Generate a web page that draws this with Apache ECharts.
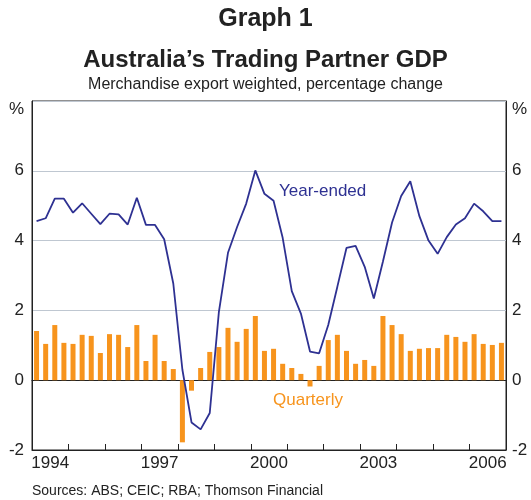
<!DOCTYPE html>
<html>
<head>
<meta charset="utf-8">
<script src="https://cdn.jsdelivr.net/npm/echarts@6/dist/echarts.min.js"></script>
<style>
html,body{margin:0;padding:0;background:#fff;}
#chart{width:531px;height:500px;}
</style>
</head>
<body>
<div id="chart"></div>
<script>
// ---- data ----
var years = ['1994','1995','1996','1997','1998','1999','2000','2001','2002','2003','2004','2005','2006'];
var quarterNames = ['Q1','Q2','Q3','Q4'];
var quarterly = [1.41,1.04,1.58,1.07,1.04,1.30,1.27,0.78,1.32,1.30,
                 0.95,1.58,0.55,1.30,0.55,0.32,-1.78,-0.30,0.35,0.81,
                 0.95,1.50,1.10,1.47,1.84,0.84,0.90,0.47,0.35,0.18,
                 -0.18,0.41,1.15,1.30,0.84,0.47,0.58,0.41,1.84,1.58,
                 1.32,0.84,0.90,0.92,0.92,1.30,1.24,1.10,1.32,1.04,1.01,1.07];
var yearEnded = [4.56,4.64,5.20,5.20,4.80,5.07,4.77,4.47,4.77,4.75,
                 4.46,5.23,4.45,4.45,4.04,2.77,0.30,-1.21,-1.41,-0.94,
                 1.95,3.65,4.39,5.06,6.01,5.34,5.14,4.08,2.55,1.91,
                 0.82,0.77,1.58,2.68,3.79,3.85,3.25,2.34,3.40,4.52,
                 5.28,5.70,4.70,4.00,3.62,4.10,4.46,4.64,5.06,4.84,4.56,4.56];
var yMin = -2, yMax = 8, yStep = 2;
var unitLabel = '%';

var quarters = [];
years.forEach(function(y){ quarterNames.forEach(function(q){ quarters.push(y + q); }); });

var FONT = "'Liberation Sans', Arial, Helvetica, sans-serif";
var DARK = '#222222';
var BLUE = '#2e3192';
var ORANGE = '#f7941d';

var chart = echarts.init(document.getElementById('chart'), null, {renderer:'canvas'});
function yLabel(v){ return v === yMax ? unitLabel : String(v); }

chart.setOption({
  animation:false,
  backgroundColor:'#ffffff',
  textStyle:{fontFamily:FONT},
  grid:{left:32, right:25, top:101, bottom:50, containLabel:false,
        show:true, borderColor:DARK, borderWidth:1, backgroundColor:'transparent'},
  xAxis:[
    {type:'category', data:quarters, boundaryGap:true, position:'bottom',
     axisLine:{show:true, onZero:true, lineStyle:{color:DARK, width:1}},
     axisTick:{show:false}, axisLabel:{show:false}, splitLine:{show:false}},
    {type:'category', data:years, boundaryGap:true, position:'bottom',
     axisLine:{show:true, onZero:false, lineStyle:{color:DARK, width:1}},
     axisTick:{show:true, inside:true, length:6, interval:0, alignWithLabel:false, lineStyle:{color:DARK}},
     axisLabel:{show:true, interval:function(i){return i % 3 === 0;}, fontSize:17, color:DARK, margin:5, fontFamily:FONT},
     splitLine:{show:false}}
  ],
  yAxis:[
    {type:'value', min:yMin, max:yMax, interval:yStep, position:'left',
     axisLine:{show:true, lineStyle:{color:DARK, width:1}},
     axisTick:{show:false},
     axisLabel:{fontSize:17, color:DARK, margin:8, formatter:yLabel, verticalAlignMaxLabel:'top', fontFamily:FONT},
     splitLine:{show:true, lineStyle:{color:'#bfc7d1', width:1}}},
    {type:'value', min:yMin, max:yMax, interval:yStep, position:'right',
     axisLine:{show:true, lineStyle:{color:DARK, width:1}},
     axisTick:{show:false},
     axisLabel:{fontSize:17, color:DARK, margin:6, formatter:yLabel, verticalAlignMaxLabel:'top', fontFamily:FONT},
     splitLine:{show:false}}
  ],
  series:[
    {name:'Quarterly', type:'bar', xAxisIndex:0, yAxisIndex:0, data:quarterly,
     barWidth:5, itemStyle:{color:ORANGE}, z:2},
    {name:'Year-ended', type:'line', xAxisIndex:0, yAxisIndex:0, data:yearEnded,
     symbol:'none', smooth:false, lineStyle:{color:BLUE, width:1.8}, z:3}
  ],
  graphic:[
    {type:'text', left:'center', top:7, style:{text:'Graph 1', font:"bold 25px " + FONT, fill:DARK}},
    {type:'text', left:'center', top:48, style:{text:'Australia\u2019s Trading Partner GDP', font:"bold 24px " + FONT, fill:DARK}},
    {type:'text', left:'center', top:77, style:{text:'Merchandise export weighted, percentage change', font:"16px " + FONT, fill:DARK}},
    {type:'text', left:279, top:183, style:{text:'Year-ended', font:"17px " + FONT, fill:BLUE}},
    {type:'text', left:273, top:392, style:{text:'Quarterly', font:"17px " + FONT, fill:ORANGE}},
    {type:'text', left:32, top:484, style:{text:'Sources: ABS; CEIC; RBA; Thomson Financial', font:"14px " + FONT, fill:DARK}}
  ]
});
</script>
</body>
</html>
